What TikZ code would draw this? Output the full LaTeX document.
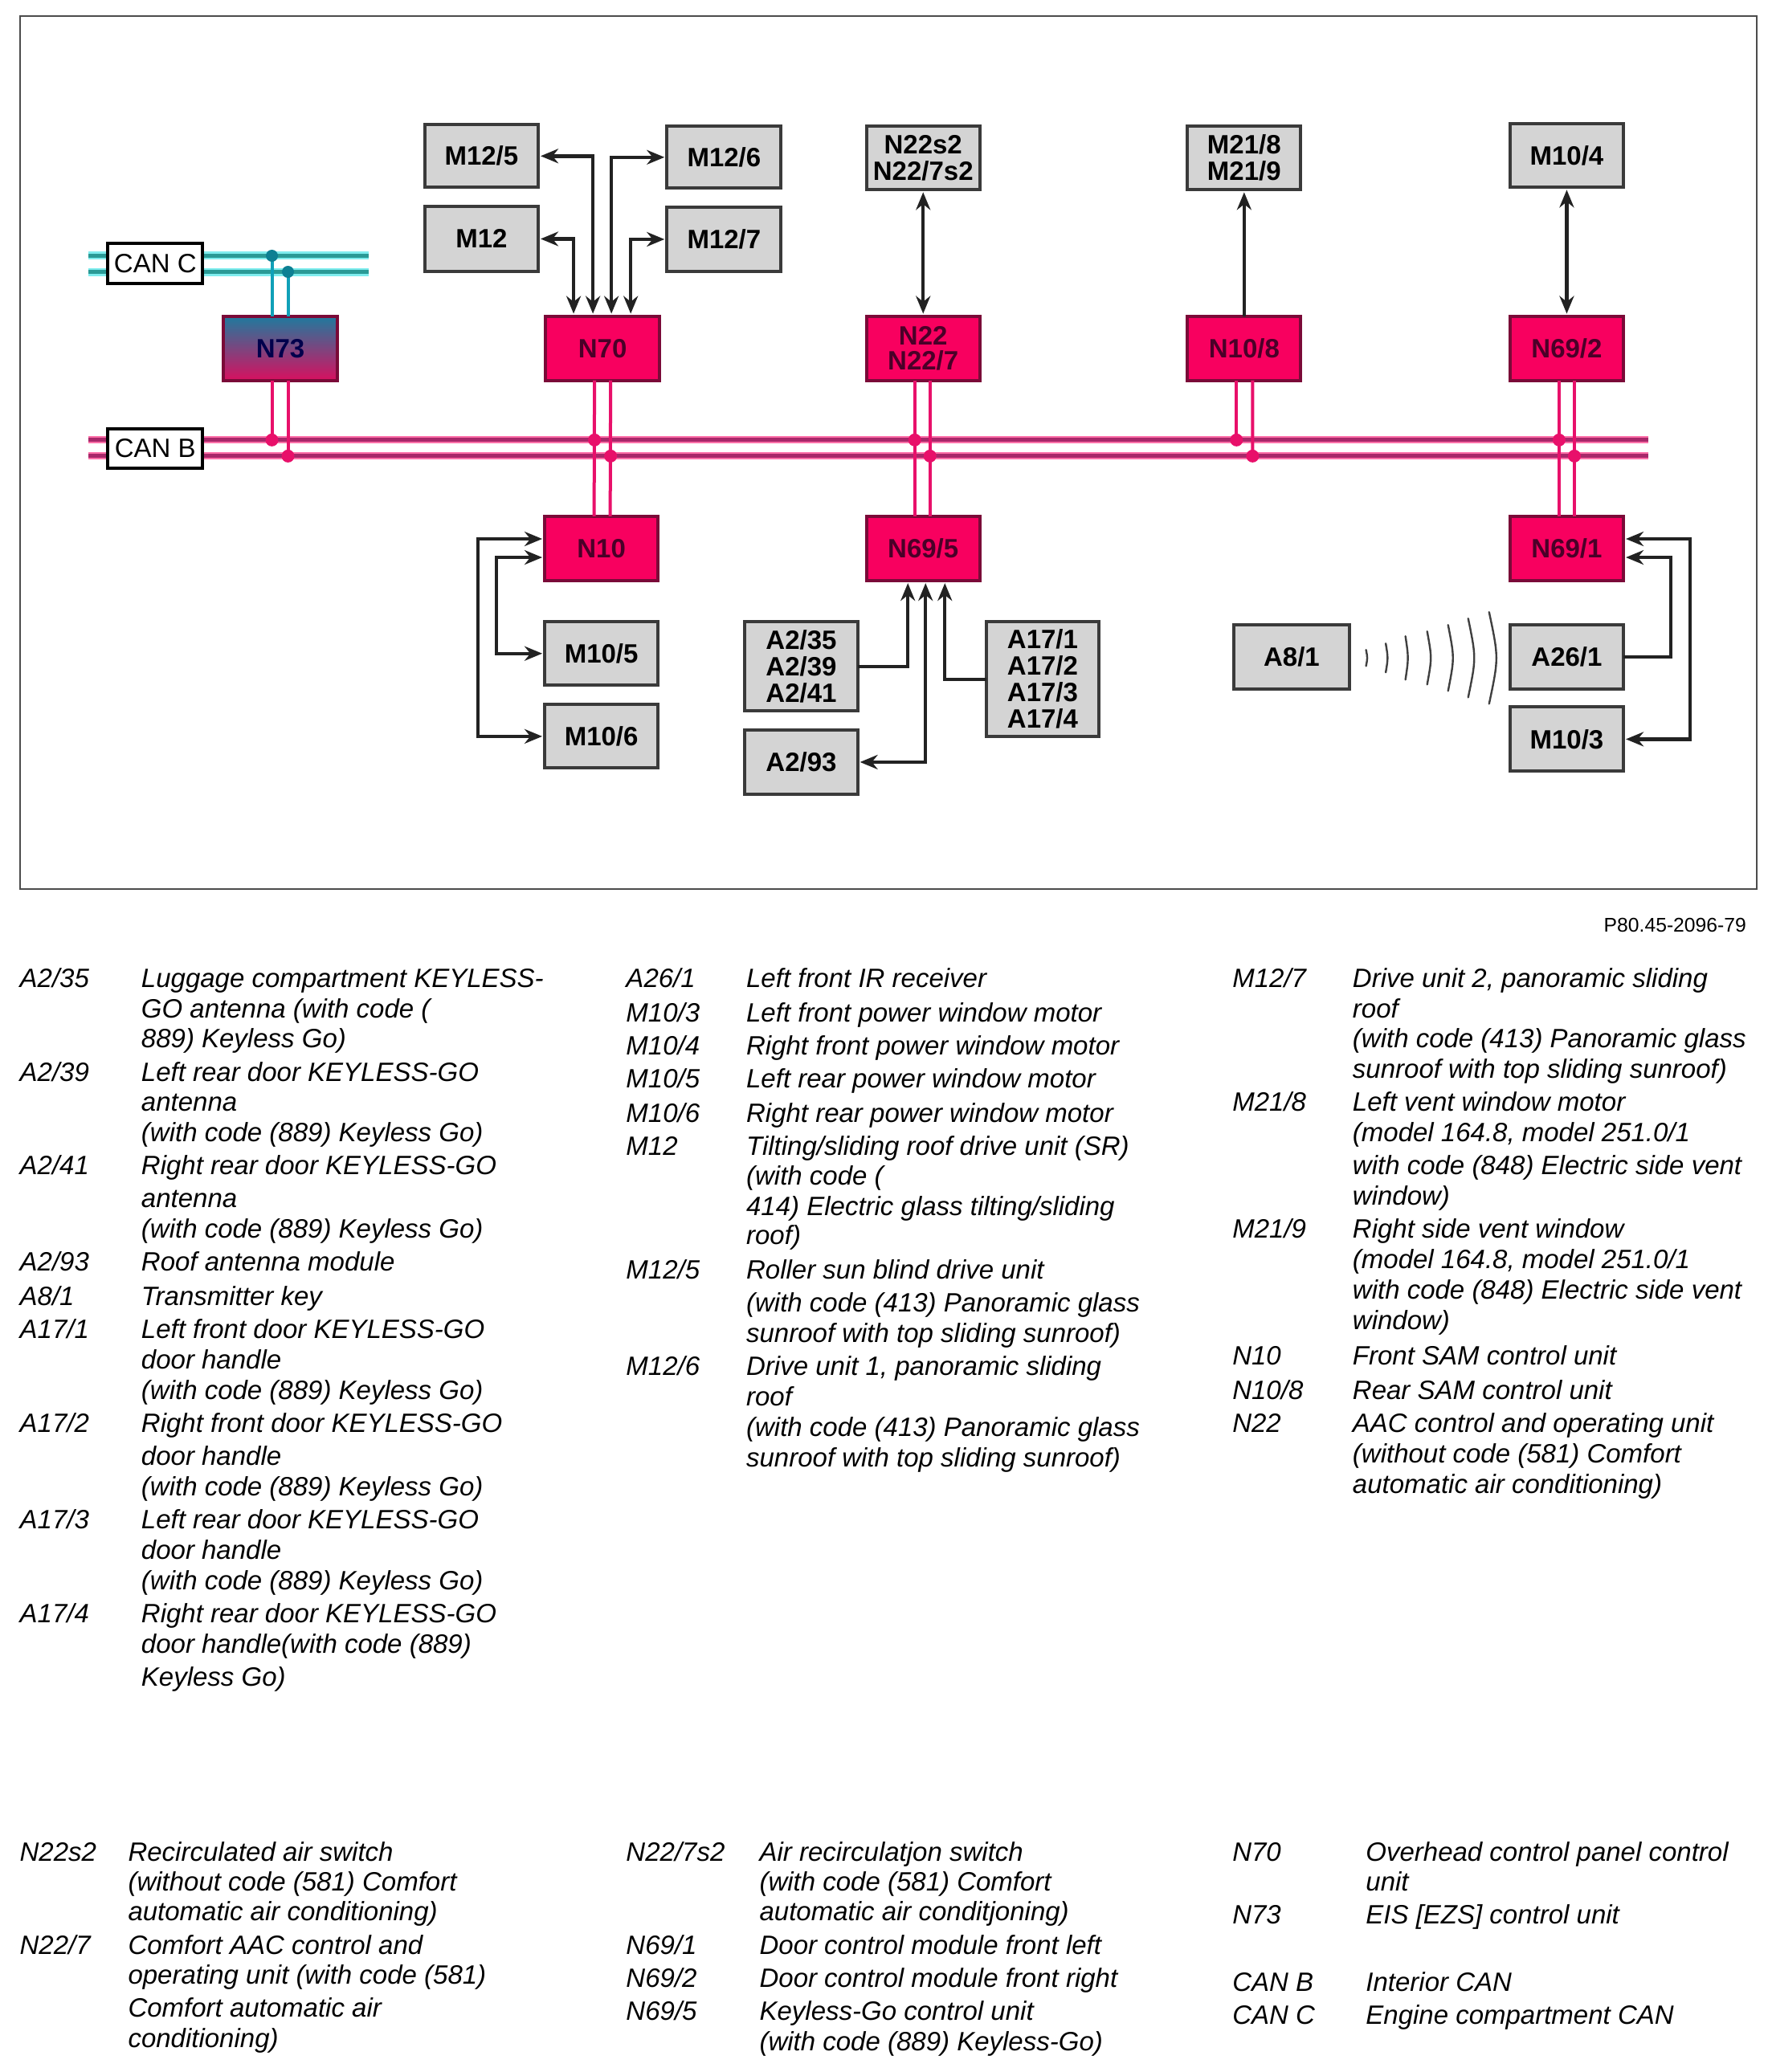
\documentclass[tikz,border=0pt]{standalone}
\usepackage{fontspec}
\setmainfont{Liberation Sans}
\usetikzlibrary{arrows.meta,calc}
\definecolor{grayfill}{HTML}{D4D4D4}
\definecolor{grayedge}{HTML}{3A3A3A}
\definecolor{ecu}{HTML}{F8005F}
\definecolor{ecuedge}{HTML}{7A0A38}
\definecolor{ecutext}{HTML}{4A0028}
\definecolor{linedark}{HTML}{222222}
\definecolor{cyanhalo}{HTML}{7FEDEE}
\definecolor{cyancore}{HTML}{2A9A96}
\definecolor{cyanwire}{HTML}{10A0B8}
\definecolor{pinkhalo}{HTML}{FF70A8}
\definecolor{pinkcore}{HTML}{A8286A}
\definecolor{pinkwire}{HTML}{E8106A}
\definecolor{gradtop}{HTML}{1F7A9E}
\definecolor{gradbot}{HTML}{D8105F}
\newcounter{legn}
\newcommand{\leg}[3]{\stepcounter{legn}\node[legtext,name=leg\thelegn] at ({#1*1.642},{(#2+8.5)*1.642}) {#3};}
\newcommand{\bx}[7]{%
  \pgfmathsetmacro{\bxw}{(#4-#2)*0.50075}\pgfmathsetmacro{\bxh}{(#5-#3)*0.50075}%
  \node[#6,minimum width=\bxw pt,minimum height=\bxh pt] (#1) at ({(#2+#4)/2},{(#3+#5)/2}) {#7};}
\tikzset{
  boxbase/.style={rectangle,inner sep=0pt,outer sep=0pt,align=center,line width=2pt},
  graybox/.style={boxbase,draw=grayedge,fill=grayfill,text=black,font=\fontsize{16.5pt}{16.5pt}\selectfont\bfseries},
  ecubox/.style={boxbase,draw=ecuedge,fill=ecu,text=ecutext,font=\fontsize{16.5pt}{15.5pt}\selectfont\bfseries},
  gradbox/.style={boxbase,draw=ecuedge,top color=gradtop,bottom color=gradbot,text=blue!30!black,font=\fontsize{16.5pt}{16pt}\selectfont\bfseries},
  canbox/.style={boxbase,draw=black,fill=white,text=black,font=\fontsize{16.5pt}{18pt}\selectfont},
  legtext/.style={anchor=base west,inner sep=0pt,outer sep=0pt,font=\fontsize{16.5pt}{20pt}\selectfont\itshape},
  ctext/.style={anchor=base east,inner sep=0pt,font=\fontsize{12.35pt}{15pt}\selectfont},
  conn/.style={draw=linedark,line width=2.2pt,line join=miter},
  dbl/.style={conn,{Stealth[length=11pt,width=9pt]}-{Stealth[length=11pt,width=9pt]},shorten >=1.5pt,shorten <=1.5pt},
  sgl/.style={conn,-{Stealth[length=11pt,width=9pt]},shorten >=1.5pt},
  hcyan/.style={draw=cyanhalo,line width=5pt},
  ccyan/.style={draw=cyancore,line width=2.5pt},
  hpink/.style={draw=pinkhalo,line width=4.5pt},
  cpink/.style={draw=pinkcore,line width=2.5pt},
  wcyan/.style={draw=cyanwire,line width=2pt},
  wpink/.style={draw=pinkwire,line width=2pt},
  dotc/.style={circle,fill=cyanwire!80!black,inner sep=0pt,minimum size=7.5pt},
  dotp/.style={circle,fill=pinkwire,inner sep=0pt,minimum size=8pt},
  wave/.style={draw=black!75,line width=1.2pt,line cap=round},
}
\begin{document}
\begin{tikzpicture}[x=0.50075pt,y=-0.50075pt]
\useasboundingbox (0,0) rectangle (2196.7,2576.1);
\node[draw=black!70,line width=1pt,fill=white,rectangle,inner sep=0pt,outer sep=0pt,minimum width=1081.1pt,minimum height=543.3pt] (frame) at (1104.5,562.5) {};
% bus coordinates
\coordinate (cca) at (110,318); \coordinate (ccb) at (458,318);
\coordinate (cda) at (110,338); \coordinate (cdb) at (458,338);
\coordinate (baa) at (110,547); \coordinate (bab) at (2049,547);
\coordinate (bba) at (110,567); \coordinate (bbb) at (2049,567);
\foreach \p/\q in {cca/ccb,cda/cdb} {\draw[hcyan] (\p) -- (\q); \draw[ccyan] (\p) -- (\q);}
\foreach \p/\q in {baa/bab,bba/bbb} {\draw[hpink] (\p) -- (\q); \draw[cpink] (\p) -- (\q);}
% boxes
\bx{CANC}{134}{303}{252}{352}{canbox}{CAN C}
\bx{CANB}{134}{533}{252}{582}{canbox}{CAN B}
\bx{N73}{278}{393}{419}{473}{gradbox}{N73}
\bx{N70}{678}{393}{820}{473}{ecubox}{N70}
\bx{N22}{1077}{393}{1218}{473}{ecubox}{N22\\N22/7}
\bx{N108}{1476}{393}{1617}{473}{ecubox}{N10/8}
\bx{N692}{1877}{393}{2018}{473}{ecubox}{N69/2}
\bx{N10}{677}{642}{818}{722}{ecubox}{N10}
\bx{N695}{1077}{642}{1218}{722}{ecubox}{N69/5}
\bx{N691}{1877}{642}{2018}{722}{ecubox}{N69/1}
\bx{M125}{528}{155}{669}{233}{graybox}{M12/5}
\bx{M12}{528}{257}{669}{337}{graybox}{M12}
\bx{M126}{829}{157}{971}{234}{graybox}{M12/6}
\bx{M127}{829}{258}{971}{337}{graybox}{M12/7}
\bx{N22s}{1077}{157}{1218}{236}{graybox}{N22s2\\N22/7s2}
\bx{M218}{1476}{157}{1617}{236}{graybox}{M21/8\\M21/9}
\bx{M104}{1877}{154}{2018}{233}{graybox}{M10/4}
\bx{M105}{677}{773}{818}{852}{graybox}{M10/5}
\bx{M106}{677}{876}{818}{955}{graybox}{M10/6}
\bx{A235}{926}{773}{1066}{884}{graybox}{A2/35\\A2/39\\A2/41}
\bx{A293}{926}{908}{1066}{987}{graybox}{A2/93}
\bx{A171}{1226}{773}{1366}{916}{graybox}{A17/1\\A17/2\\A17/3\\A17/4}
\bx{A81}{1534}{777}{1677}{857}{graybox}{A8/1}
\bx{A261}{1877}{777}{2018}{857}{graybox}{A26/1}
\bx{M103}{1877}{879}{2018}{959}{graybox}{M10/3}
% CAN C wires
\draw[wcyan] (338,393) -- (338,318);
\draw[wcyan] (358,393) -- (358,338);
\node[dotc] (jc1) at (338,318) {};
\node[dotc] (jc2) at (358,338) {};
% CAN B wires
\draw[wpink] (338,473) -- (338,547);
\draw[wpink] (358,473) -- (358,567);
\draw[wpink] ($(N70.south)+(-10,0)$) -- ($(N10.north)+(-9,0)$);
\draw[wpink] ($(N70.south)+(10,0)$) -- ($(N10.north)+(11,0)$);
\draw[wpink] ($(N22.south)+(-10.5,0)$) -- ($(N695.north)+(-10.5,0)$);
\draw[wpink] ($(N22.south)+(8.5,0)$) -- ($(N695.north)+(8.5,0)$);
\draw[wpink] ($(N108.south)+(-9.5,0)$) -- (1537,547);
\draw[wpink] ($(N108.south)+(10.5,0)$) -- (1557,567);
\draw[wpink] ($(N692.south)+(-9.5,0)$) -- ($(N691.north)+(-9.5,0)$);
\draw[wpink] ($(N692.south)+(9.5,0)$) -- ($(N691.north)+(9.5,0)$);
\foreach \jx/\jn in {338/a,739/b,1137/c,1537/d,1938/e} {\node[dotp] (jp1\jn) at (\jx,547) {};}
\foreach \jx/\jn in {358/a,759/b,1156/c,1557/d,1957/e} {\node[dotp] (jp2\jn) at (\jx,567) {};}
% N70 connectors
\draw[dbl] (M125.east) -| ($(N70.north)+(-12,0)$);
\draw[dbl] (M12.east) -| ($(N70.north)+(-36,0)$);
\draw[dbl] (M126.west) -| ($(N70.north)+(11,0)$);
\draw[dbl] (M127.west) -| ($(N70.north)+(35,0)$);
% vertical connectors
\draw[dbl] (N22s.south) -- (N22.north);
\draw[sgl] (N108.north) -- (M218.south);
\draw[dbl] (M104.south) -- (N692.north);
% N10 connectors
\draw[dbl] (M106.west) -- ++(-83,0) |- ($(N10.west)+(0,-12)$);
\draw[dbl] (M105.west) -- ++(-60,0) |- ($(N10.west)+(0,11)$);
% N69/5 connectors
\draw[sgl] (A235.east) -| ($(N695.south)+(-19,0)$);
\draw[dbl] (A293.east) -| ($(N695.south)+(3,0)$);
\draw[sgl] (A171.west) -| ($(N695.south)+(27,0)$);
% N69/1 connectors
\draw[sgl] (A261.east) -- ++(59,0) |- ($(N691.east)+(0,11)$);
\draw[dbl] (M103.east) -- ++(83,0) |- ($(N691.east)+(0,-12)$);
% radio waves
\foreach \wx/\wh/\wb in {1699/10/1,1724/18/1.5,1749/27/2,1777/33/3,1804/41/4,1830/49/5,1857/57/6} {
  \draw[wave] ({\wx-\wb},{818-\wh}) .. controls ({\wx+\wb},818) .. ({\wx-\wb},{818+\wh});
}
% reference
\node[ctext] (ref) at (2171,1159) {P80.45-2096-79};
% legend column 1
\leg{15}{739}{A2/35}\leg{107}{739}{Luggage compartment KEYLESS-}
\leg{107}{762}{GO antenna (with code (}
\leg{107}{785}{889) Keyless Go)}
\leg{15}{810}{A2/39}\leg{107}{810}{Left rear door KEYLESS-GO}
\leg{107}{833}{antenna}
\leg{107}{856}{(with code (889) Keyless Go)}
\leg{15}{881}{A2/41}\leg{107}{881}{Right rear door KEYLESS-GO}
\leg{107}{906}{antenna}
\leg{107}{929}{(with code (889) Keyless Go)}
\leg{15}{954}{A2/93}\leg{107}{954}{Roof antenna module}
\leg{15}{980}{A8/1}\leg{107}{980}{Transmitter key}
\leg{15}{1005}{A17/1}\leg{107}{1005}{Left front door KEYLESS-GO}
\leg{107}{1028}{door handle}
\leg{107}{1051}{(with code (889) Keyless Go)}
\leg{15}{1076}{A17/2}\leg{107}{1076}{Right front door KEYLESS-GO}
\leg{107}{1101}{door handle}
\leg{107}{1124}{(with code (889) Keyless Go)}
\leg{15}{1149}{A17/3}\leg{107}{1149}{Left rear door KEYLESS-GO}
\leg{107}{1172}{door handle}
\leg{107}{1195}{(with code (889) Keyless Go)}
\leg{15}{1220}{A17/4}\leg{107}{1220}{Right rear door KEYLESS-GO}
\leg{107}{1243}{door handle(with code (889)}
\leg{107}{1268}{Keyless Go)}
% legend column 2
\leg{474}{739}{A26/1}\leg{565}{739}{Left front IR receiver}
\leg{474}{765}{M10/3}\leg{565}{765}{Left front power window motor}
\leg{474}{790}{M10/4}\leg{565}{790}{Right front power window motor}
\leg{474}{815}{M10/5}\leg{565}{815}{Left rear power window motor}
\leg{474}{841}{M10/6}\leg{565}{841}{Right rear power window motor}
\leg{474}{866}{M12}\leg{565}{866}{Tilting/sliding roof drive unit (SR)}
\leg{565}{889}{(with code (}
\leg{565}{912}{414) Electric glass tilting/sliding}
\leg{565}{934}{roof)}
\leg{474}{960}{M12/5}\leg{565}{960}{Roller sun blind drive unit}
\leg{565}{985}{(with code (413) Panoramic glass}
\leg{565}{1008}{sunroof with top sliding sunroof)}
\leg{474}{1033}{M12/6}\leg{565}{1033}{Drive unit 1, panoramic sliding}
\leg{565}{1056}{roof}
\leg{565}{1079}{(with code (413) Panoramic glass}
\leg{565}{1102}{sunroof with top sliding sunroof)}
% legend column 3
\leg{933}{739}{M12/7}\leg{1024}{739}{Drive unit 2, panoramic sliding}
\leg{1024}{762}{roof}
\leg{1024}{785}{(with code (413) Panoramic glass}
\leg{1024}{808}{sunroof with top sliding sunroof)}
\leg{933}{833}{M21/8}\leg{1024}{833}{Left vent window motor}
\leg{1024}{856}{(model 164.8, model 251.0/1}
\leg{1024}{881}{with code (848) Electric side vent}
\leg{1024}{904}{window)}
\leg{933}{929}{M21/9}\leg{1024}{929}{Right side vent window}
\leg{1024}{952}{(model 164.8, model 251.0/1}
\leg{1024}{975}{with code (848) Electric side vent}
\leg{1024}{998}{window)}
\leg{933}{1025}{N10}\leg{1024}{1025}{Front SAM control unit}
\leg{933}{1051}{N10/8}\leg{1024}{1051}{Rear SAM control unit}
\leg{933}{1076}{N22}\leg{1024}{1076}{AAC control and operating unit}
\leg{1024}{1099}{(without code (581) Comfort}
\leg{1024}{1122}{automatic air conditioning)}
% lower legend
\leg{15}{1401}{N22s2}\leg{97}{1401}{Recirculated air switch}
\leg{97}{1423}{(without code (581) Comfort}
\leg{97}{1446}{automatic air conditioning)}
\leg{15}{1471}{N22/7}\leg{97}{1471}{Comfort AAC control and}
\leg{97}{1494}{operating unit (with code (581)}
\leg{97}{1519}{Comfort automatic air}
\leg{97}{1542}{conditioning)}
\leg{474}{1401}{N22/7s2}\leg{575}{1401}{Air recirculatjon switch}
\leg{575}{1423}{(with code (581) Comfort}
\leg{575}{1446}{automatic air conditjoning)}
\leg{474}{1471}{N69/1}\leg{575}{1471}{Door control module front left}
\leg{474}{1496}{N69/2}\leg{575}{1496}{Door control module front right}
\leg{474}{1521}{N69/5}\leg{575}{1521}{Keyless-Go control unit}
\leg{575}{1544}{(with code (889) Keyless-Go)}
\leg{933}{1401}{N70}\leg{1034}{1401}{Overhead control panel control}
\leg{1034}{1423}{unit}
\leg{933}{1448}{N73}\leg{1034}{1448}{EIS [EZS] control unit}
\leg{933}{1499}{CAN B}\leg{1034}{1499}{Interior CAN}
\leg{933}{1524}{CAN C}\leg{1034}{1524}{Engine compartment CAN}
\end{tikzpicture}
\end{document}
